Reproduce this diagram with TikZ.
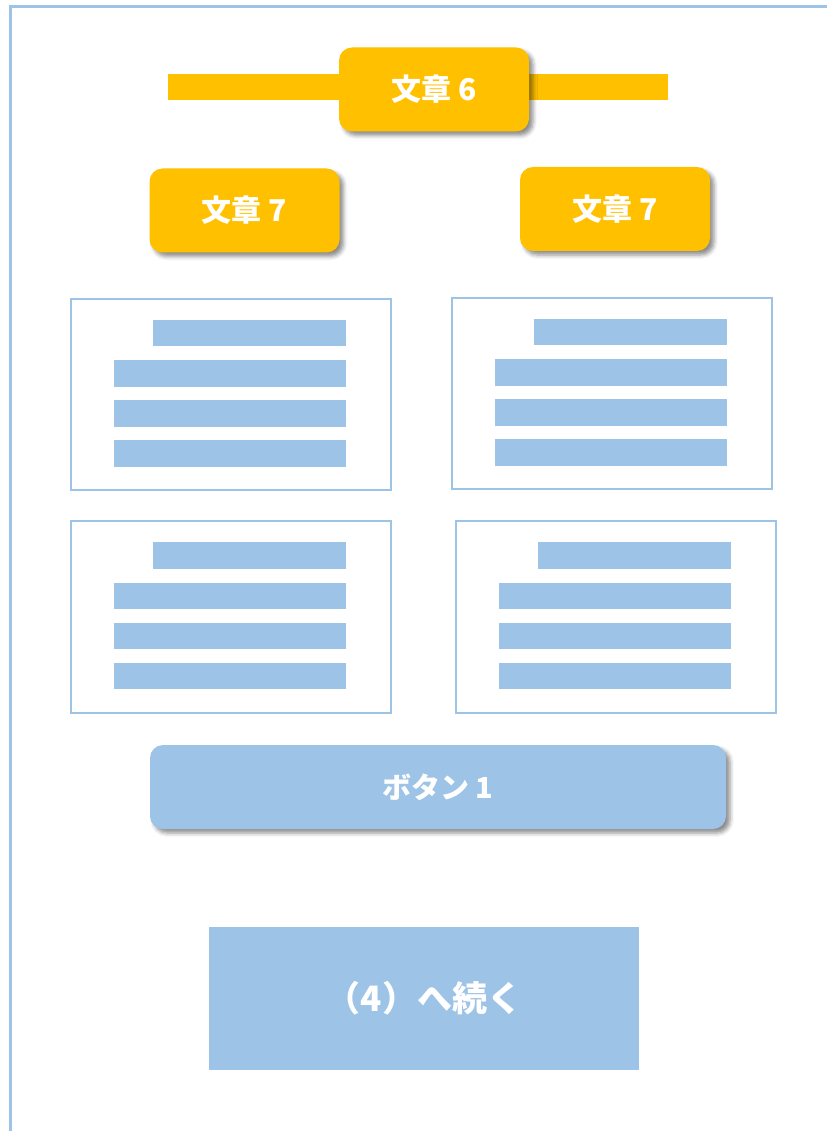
\documentclass[tikz,border=0pt]{standalone}
\usepackage{fontspec}
\setmainfont{Noto Sans CJK JP}
\usetikzlibrary{shadows.blur}
\definecolor{orng}{HTML}{FFC000}
\definecolor{lblue}{HTML}{9DC3E6}
\tikzset{
  pillbox/.style={rounded corners=13pt, fill=orng, draw=none, minimum width=190pt, minimum height=84pt,
    text=white, font=\fontsize{30}{33}\selectfont\bfseries,
    blur shadow={shadow xshift=4pt, shadow yshift=-4pt, shadow blur radius=4pt, shadow opacity=45}},
  btnbox/.style={rounded corners=13pt, fill=lblue, draw=none, minimum width=576pt, minimum height=84pt,
    text=white, font=\fontsize{29}{32}\selectfont\bfseries,
    blur shadow={shadow xshift=4pt, shadow yshift=-4pt, shadow blur radius=4pt, shadow opacity=45}},
  contbox/.style={fill=lblue, draw=none, minimum width=430pt, minimum height=143pt,
    text=white, font=\fontsize{35}{38}\selectfont\bfseries},
  cardbox/.style={draw=lblue, line width=2pt, fill=white},
  textbar/.style={fill=lblue},
}
\begin{document}
\begin{tikzpicture}[x=1pt,y=-1pt]
\useasboundingbox (0,0) rectangle (827,1131);
% frame (top and left edges)
\draw[lblue, line width=2.5pt] (10.5,1131) -- (10.5,6.5) -- (827,6.5);
% title bar
\fill[orng] (168,74) rectangle (668,100.5);
\node[pillbox] (t6) at (434,89.5) {文章 6};
\node[pillbox] (t7l) at (244.5,210.5) {文章 7};
\node[pillbox] (t7r) at (615,209) {文章 7};
% cards
\foreach \cx/\cy in {71/298.5, 451.5/297.5, 71/521, 456/521}{
  \begin{scope}[shift={(\cx,\cy)}]
    \draw[cardbox] (0,0) rectangle (320,191.5);
    \fill[textbar] (82,21) rectangle (275,47.5);
    \fill[textbar] (43,61.5) rectangle (275,88);
    \fill[textbar] (43,101.5) rectangle (275,128);
    \fill[textbar] (43,141.5) rectangle (275,168);
  \end{scope}
}
\node[btnbox] (b1) at (438,787) {ボタン 1};
\node[contbox] (cont) at (424,998) {（4）へ続く};
\end{tikzpicture}
\end{document}
